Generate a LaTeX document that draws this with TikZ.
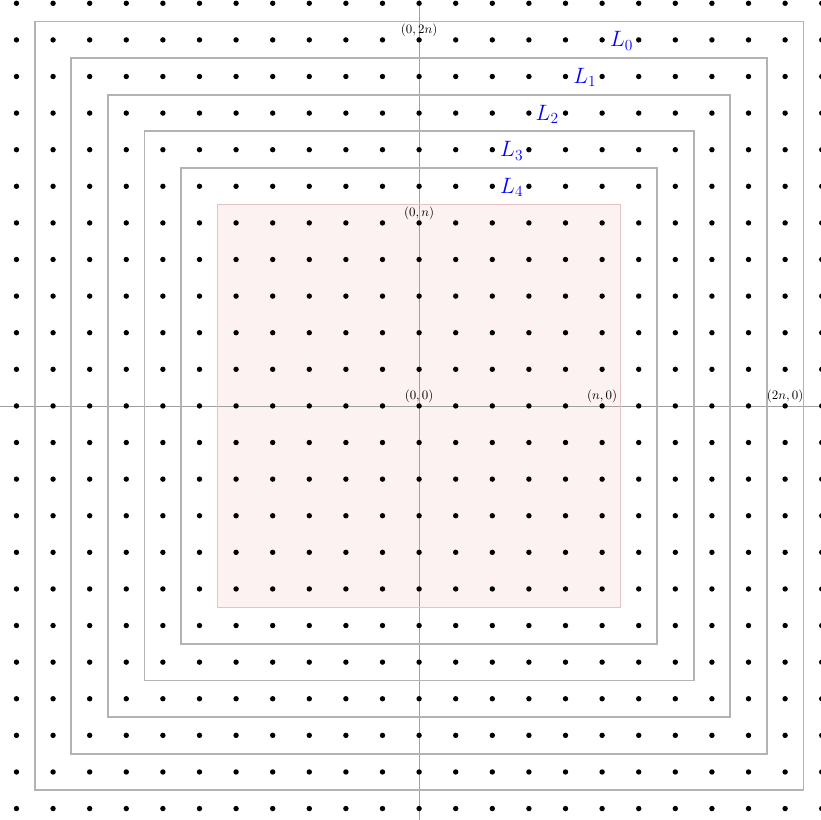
\documentclass[tikz,border=0pt]{standalone}
\usetikzlibrary{positioning}
\definecolor{LayerGray}{HTML}{B3B3B3}
\definecolor{AxisGray}{HTML}{A0A0A0}
\definecolor{CoreRed}{HTML}{E8C2C2}
\definecolor{CorePink}{HTML}{FDF2F2}
\definecolor{LabelBlue}{HTML}{0000FF}

\begin{document}
\begin{tikzpicture}[line cap=round]
  \useasboundingbox (-11.45,-11.31) rectangle (10.98,11.09);
  \clip (-11.45,-11.31) rectangle (10.98,11.09);
  \coordinate (O) at (0,0);
  \coordinate (Xn) at (5,0);
  \coordinate (X2n) at (10,0);
  \coordinate (Yn) at (0,5);
  \coordinate (Y2n) at (0,10);
  \fill[CorePink] (-5.5,-5.5) rectangle (5.5,5.5);
  \draw[AxisGray,line width=0.4pt] (-11.45,0) -- (11,0) (0,-11.31) -- (0,11.09);
  \foreach \x in {-11,...,11}{\foreach \y in {-11,...,11}{\fill (\x,\y) circle (2.1pt);}}
  \draw[CoreRed,line width=0.9pt] (-5.5,-5.5) rectangle (5.5,5.5);
  \foreach \k in {0,...,4}{\draw[LayerGray,line width=1.4pt] ({\k-10.5},{\k-10.5}) rectangle ({10.5-\k},{10.5-\k});}
  \node[text=LabelBlue,font=\LARGE] (L0) at (5.53,9.97) {$L_0$};
  \node[text=LabelBlue,font=\LARGE] (L1) at (4.53,8.97) {$L_1$};
  \node[text=LabelBlue,font=\LARGE] (L2) at (3.5,7.97) {$L_2$};
  \node[text=LabelBlue,font=\LARGE] (L3) at (2.53,6.97) {$L_3$};
  \node[text=LabelBlue,font=\LARGE] (L4) at (2.53,5.97) {$L_4$};
  \node[above,inner sep=2pt] (lO) at (O) {$(0,0)$};
  \node[above,inner sep=2pt] (lXn) at (Xn) {$(n,0)$};
  \node[above,inner sep=2pt] (lX2n) at (X2n) {$(2n,0)$};
  \node[above,inner sep=2pt] (lYn) at (Yn) {$(0,n)$};
  \node[above,inner sep=2pt] (lY2n) at (Y2n) {$(0,2n)$};
\end{tikzpicture}
\end{document}
